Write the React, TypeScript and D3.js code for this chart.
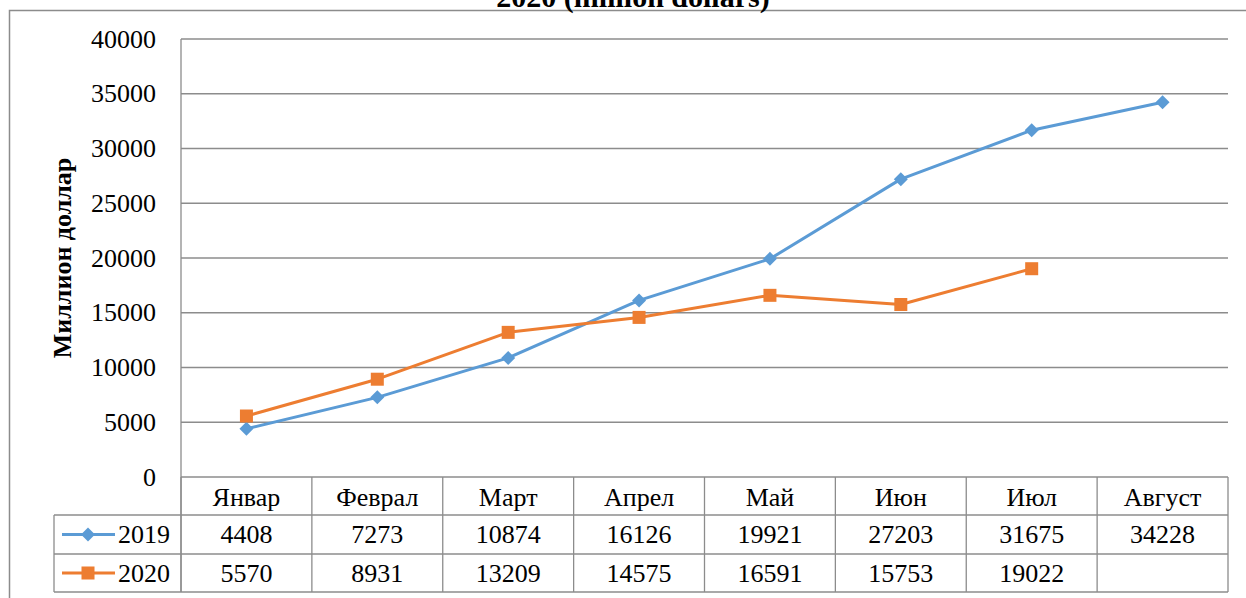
import React from "react";
import * as d3 from "d3";

const categories = ["Январ", "Феврал", "Март", "Апрел", "Май", "Июн", "Июл", "Август"];
const series2019 = [4408, 7273, 10874, 16126, 19921, 27203, 31675, 34228];
const series2020: (number | null)[] = [5570, 8931, 13209, 14575, 16591, 15753, 19022, null];
const yTicks = [0, 5000, 10000, 15000, 20000, 25000, 30000, 35000, 40000];
const seriesNames = ["2019", "2020"];

const W = 1246;
const H = 598;
const FONT = "Liberation Serif, Tinos, Times New Roman, serif";
const GRID = "#8c8c8c";
const BLUE = "#5B9BD5";
const ORANGE = "#ED7D31";

const plotLeft = 181;
const plotRight = 1228;
const plotTop = 39;
const plotBottom = 477;
const row1 = 515;
const row2 = 554;
const row3 = 592;
const tableLeft = 54;

const txt: React.CSSProperties = { fontFamily: FONT, fontWeight: 400 };
const bold: React.CSSProperties = { fontFamily: FONT, fontWeight: 700 };

export default function App() {
  const x = d3.scaleBand<string>().domain(categories).range([plotLeft, plotRight]).padding(0);
  const y = d3.scaleLinear().domain([0, 40000]).range([plotBottom, plotTop]);
  const cx = (c: string) => (x(c) as number) + x.bandwidth() / 2;

  const line = d3
    .line<number | null>()
    .defined((d) => d !== null)
    .x((_, i) => cx(categories[i]))
    .y((d) => y(d as number));

  const diamond = (px: number, py: number, r = 7) =>
    `M${px},${py - r}L${px + r},${py}L${px},${py + r}L${px - r},${py}Z`;

  const boundaries = d3.range(categories.length + 1).map((i) => plotLeft + i * x.bandwidth());

  return (
    <svg width={W} height={H} style={{ position: "absolute", left: 0, top: 0, background: "#fff" }}>
      <rect x={0} y={0} width={W} height={H} fill="#fff" />
      <rect x={9.5} y={10.5} width={W + 50} height={H + 50} fill="none" stroke={GRID} strokeWidth={1.5} />
      <text x={633} y={7} textAnchor="middle" fontSize={30} style={bold} fill="#000">
        2020 (million dollars)
      </text>

      {/* gridlines */}
      {yTicks.map((t) => (
        <line key={t} x1={plotLeft} x2={plotRight} y1={y(t)} y2={y(t)} stroke={GRID} strokeWidth={1.3} />
      ))}
      <line x1={plotLeft} x2={plotLeft} y1={plotTop} y2={row3} stroke={GRID} strokeWidth={1.3} />

      {/* y tick labels */}
      {yTicks.map((t) => (
        <text key={t} x={156} y={y(t)} textAnchor="end" dominantBaseline="central" fontSize={26} style={txt} fill="#000">
          {t}
        </text>
      ))}

      <text
        transform={`translate(62,${(plotTop + plotBottom) / 2}) rotate(-90)`}
        textAnchor="middle"
        dominantBaseline="central"
        fontSize={26}
        style={bold}
        fill="#000"
      >
        Миллион доллар
      </text>

      {/* table */}
      {boundaries.map((bx, i) => (
        <line key={i} x1={bx} x2={bx} y1={plotBottom} y2={row3} stroke={GRID} strokeWidth={1.3} />
      ))}
      {[row1, row2, row3].map((ry) => (
        <line key={ry} x1={tableLeft} x2={plotRight} y1={ry} y2={ry} stroke={GRID} strokeWidth={1.3} />
      ))}
      <line x1={tableLeft} x2={tableLeft} y1={row1} y2={row3} stroke={GRID} strokeWidth={1.3} />

      {categories.map((c) => (
        <text key={c} x={cx(c)} y={(plotBottom + row1) / 2 + 1} textAnchor="middle" dominantBaseline="central" fontSize={26} style={txt} fill="#000">
          {c}
        </text>
      ))}
      {series2019.map((v, i) => (
        <text key={i} x={cx(categories[i])} y={(row1 + row2) / 2} textAnchor="middle" dominantBaseline="central" fontSize={26} style={txt} fill="#000">
          {v}
        </text>
      ))}
      {series2020.map((v, i) =>
        v === null ? null : (
          <text key={i} x={cx(categories[i])} y={(row2 + row3) / 2} textAnchor="middle" dominantBaseline="central" fontSize={26} style={txt} fill="#000">
            {v}
          </text>
        )
      )}

      {/* legend keys */}
      <line x1={62} x2={115} y1={(row1 + row2) / 2} y2={(row1 + row2) / 2} stroke={BLUE} strokeWidth={3} />
      <path d={diamond(88, (row1 + row2) / 2)} fill={BLUE} />
      <text x={118} y={(row1 + row2) / 2} dominantBaseline="central" fontSize={26} style={txt} fill="#000">
        {seriesNames[0]}
      </text>
      <line x1={62} x2={115} y1={(row2 + row3) / 2} y2={(row2 + row3) / 2} stroke={ORANGE} strokeWidth={3} />
      <rect x={81.5} y={(row2 + row3) / 2 - 6.5} width={13} height={13} fill={ORANGE} />
      <text x={118} y={(row2 + row3) / 2} dominantBaseline="central" fontSize={26} style={txt} fill="#000">
        {seriesNames[1]}
      </text>

      {/* series lines */}
      <path d={line(series2019) || ""} fill="none" stroke={BLUE} strokeWidth={3} strokeLinejoin="round" />
      <path d={line(series2020) || ""} fill="none" stroke={ORANGE} strokeWidth={3} strokeLinejoin="round" />
      {series2019.map((v, i) => (
        <path key={i} d={diamond(cx(categories[i]), y(v))} fill={BLUE} />
      ))}
      {series2020.map((v, i) =>
        v === null ? null : (
          <rect key={i} x={cx(categories[i]) - 6.5} y={y(v) - 6.5} width={13} height={13} fill={ORANGE} />
        )
      )}
    </svg>
  );
}
